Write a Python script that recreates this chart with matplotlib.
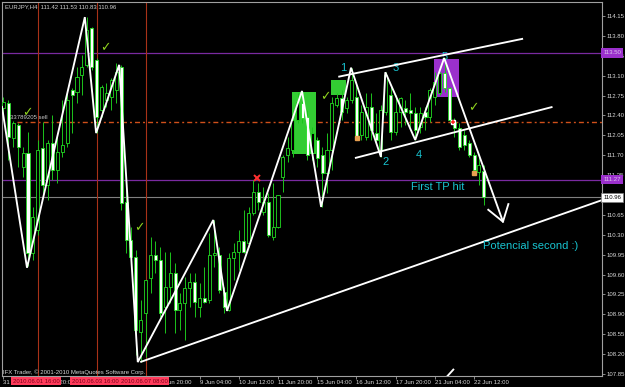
import matplotlib
matplotlib.use('Agg')
import matplotlib.pyplot as plt
import matplotlib.transforms as mtransforms
from matplotlib.patches import Rectangle

plt.rcParams['lines.scale_dashes'] = False
plt.rcParams['font.family'] = ['Liberation Sans', 'DejaVu Sans']

# ---------------- data (EURJPY H4 candles) ----------------
opens = [112.53, 112.62, 112.00, 112.23, 111.49, 111.74, 109.98, 110.38, 111.83, 111.18,
         111.92, 111.44, 111.76, 111.92, 112.85, 112.81, 113.11, 113.29, 113.94, 113.38,
         112.50, 112.67, 112.72, 112.85, 113.25, 110.88, 110.21, 109.91, 108.59, 108.92,
         109.54, 109.94, 109.86, 109.03, 109.38, 109.63, 108.98, 109.10, 109.37, 109.47,
         109.03, 109.19, 109.15, 109.94, 109.94, 109.29, 108.98, 109.89, 110.00, 110.19,
         110.16, 110.68, 111.05, 110.70, 110.88, 110.26, 110.44, 111.32, 111.70, 111.79,
         112.32, 112.62, 112.37, 111.74, 111.97, 111.70, 111.39, 111.79, 112.58, 112.71,
         112.53, 112.67, 112.72, 112.06, 112.02, 112.55, 112.09, 111.79, 112.46, 112.76,
         112.11, 112.46, 112.53, 112.50, 112.44, 112.20, 112.46, 112.37, 112.72, 112.80,
         113.15, 112.88, 112.29, 112.18, 112.06, 111.92, 111.70, 111.40, 111.42]
highs = [112.72, 112.67, 112.30, 112.27, 111.85, 112.11, 110.79, 111.97, 112.29, 111.97,
         112.41, 112.09, 112.67, 112.85, 112.88, 113.25, 113.46, 114.13, 113.96, 113.41,
         112.94, 112.97, 113.06, 113.32, 113.29, 111.14, 110.44, 110.03, 109.15, 109.50,
         110.26, 110.19, 110.09, 110.00, 110.00, 109.80, 109.28, 109.56, 109.63, 109.63,
         109.45, 109.73, 110.33, 110.56, 110.09, 109.38, 109.98, 110.16, 110.38, 110.74,
         110.79, 111.26, 111.21, 111.14, 111.04, 111.21, 111.00, 111.70, 112.02, 112.32,
         112.80, 112.83, 112.50, 112.20, 112.02, 111.85, 112.09, 112.72, 112.80, 112.85,
         112.72, 113.24, 112.97, 112.58, 112.80, 112.80, 112.44, 112.58, 113.16, 112.90,
         112.76, 112.72, 112.67, 112.80, 112.55, 112.55, 112.55, 112.88, 113.16, 113.16,
         113.41, 112.90, 112.36, 112.27, 112.14, 111.97, 111.76, 111.67, 111.53]
lows = [112.43, 111.62, 111.85, 111.49, 111.32, 109.75, 109.86, 110.30, 110.97, 110.91,
        111.26, 111.21, 111.67, 111.85, 112.09, 112.62, 112.76, 113.25, 113.20, 112.09,
        112.37, 112.55, 112.50, 112.62, 110.74, 109.98, 109.86, 108.18, 108.06, 108.15,
        109.28, 109.63, 108.85, 108.57, 109.10, 108.57, 108.63, 108.45, 109.03, 108.85,
        108.85, 109.10, 109.10, 109.73, 109.28, 108.92, 108.96, 109.50, 109.68, 109.98,
        110.09, 110.65, 110.74, 110.65, 110.26, 110.21, 110.42, 111.05, 111.58, 111.67,
        112.27, 112.27, 111.62, 111.62, 111.49, 110.79, 111.04, 111.44, 112.55, 112.32,
        112.44, 112.62, 111.97, 111.97, 111.97, 111.97, 111.92, 111.67, 112.41, 111.97,
        112.06, 112.20, 112.23, 112.20, 111.97, 112.09, 112.14, 112.29, 112.58, 112.76,
        112.81, 112.29, 112.02, 111.79, 111.79, 111.67, 111.39, 111.18, 110.83]
closes = [112.64, 112.02, 112.27, 111.85, 111.74, 109.98, 110.61, 111.79, 111.18, 111.92,
          111.44, 111.76, 111.88, 112.67, 112.76, 113.08, 113.25, 113.90, 113.25, 112.37,
          112.90, 112.80, 113.02, 113.16, 110.86, 110.21, 109.91, 108.63, 108.80, 109.50,
          109.94, 109.86, 108.92, 109.38, 109.63, 108.98, 109.10, 109.37, 109.47, 109.12,
          109.19, 109.12, 109.94, 109.98, 109.33, 109.03, 109.89, 110.00, 110.19, 110.00,
          110.68, 111.05, 110.88, 110.88, 110.30, 110.44, 111.00, 111.67, 111.83, 112.32,
          112.64, 112.36, 111.70, 112.09, 111.65, 111.39, 111.79, 112.62, 112.71, 112.46,
          112.67, 113.02, 112.02, 112.46, 112.55, 112.14, 111.97, 112.50, 113.11, 112.11,
          112.46, 112.71, 112.46, 112.44, 112.14, 112.44, 112.37, 112.85, 112.99, 113.15,
          112.88, 112.32, 112.18, 111.85, 111.88, 111.70, 111.44, 111.53, 110.96]

# time axis (bar index -> label); labels fully hidden under the date boxes are blank
tick_bars = [0, 8, 16, 24, 32, 40, 48, 56, 64, 72, 80, 88, 96]
tick_labels = ['31 May 2010', '1 Jun 20:00', '', '', '7 Jun 20:00',
               '9 Jun 04:00', '10 Jun 12:00', '11 Jun 20:00', '15 Jun 04:00', '16 Jun 12:00',
               '17 Jun 20:00', '21 Jun 04:00', '22 Jun 12:00']
price_ticks = [114.15, 113.80, 113.45, 113.10, 112.75, 112.40, 112.05, 111.70, 111.35,
               111.00, 110.65, 110.30, 109.95, 109.60, 109.25, 108.90, 108.55, 108.20, 107.85]

# vertical time lines
vline_bars = [7, 19, 29]
vline_labels = ['2010.06.01 16:00', '2010.06.03 16:00', '2010.06.07 08:00']

# horizontal levels
purple_levels = [113.50, 111.27]
bid_level = 110.96
order_level = 112.29
order_start = 2.8

# hand-drawn zigzag (bar, price)
zz_bars = [-0.3, 4.8, 16.6, 18.9, 23.6, 27.4, 42.8, 45.6, 60.9, 64.8, 70.9, 77.0, 77.9, 84.0, 89.9, 101.9]
zz_prices = [112.55, 109.72, 114.13, 112.09, 113.29, 108.06, 110.56, 108.96, 112.83, 110.79,
             113.24, 111.67, 113.16, 111.97, 113.41, 110.53]
arrow_bars = [98.9, 101.9, 103.0]
arrow_prices = [110.74, 110.53, 110.84]

# trend lines (bar0, price0, bar1, price1)
channel_upper = (68.3, 113.08, 106.0, 113.75)
channel_lower = (71.7, 111.65, 112.0, 112.55)
support_line = (27.9, 108.06, 122.1, 110.91)
bottom_stub = (90.0, 107.76, 91.9, 107.94)

# rectangles (bar0, bar1, price_low, price_high, colour)
rects = [(58.9, 63.8, 111.72, 112.81, '#33cc33'),
         (66.8, 69.9, 112.76, 113.02, '#33cc33'),
         (87.9, 93.0, 112.72, 113.39, '#9b30cc')]

# wave labels
wave_text = ['1', '2', '3', '4', '5']
wave_bars = [69.3, 77.9, 80.1, 84.8, 89.9]
wave_prices = [113.23, 111.58, 113.23, 111.70, 113.43]

check_bars = [20.7, 4.8, 27.7, 65.6, 95.8]
check_prices = [113.59, 112.45, 110.42, 112.73, 112.53]

# ---------------- figure ----------------
W, H = 625, 387
fig = plt.figure(figsize=(W / 100, H / 100), dpi=100, facecolor='black')
ax = fig.add_axes([2 / W, 11 / H, 600 / W, 374 / H])
ax.set_facecolor('black')
ax.set_xlim(-0.3, 122.1)
ax.set_ylim(107.815, 114.396)

for s in ax.spines.values():
    s.set_color('#a0a0a0')
    s.set_linewidth(0.8)

# levels
for lv in purple_levels:
    ax.axhline(lv, color='#7a2aa0', lw=0.9, zorder=1)
ax.axhline(bid_level, color='#808080', lw=0.8, zorder=1)
ax.plot([order_start, 122.1], [order_level, order_level], color='#d0501a', lw=1.0,
        dashes=(3.6, 2.2, 1.4, 2.2), zorder=1)
for vb in vline_bars:
    ax.axvline(vb, color='#a83218', lw=0.8, zorder=1)

# rectangles
for b0, b1, p0, p1, col in rects:
    ax.add_patch(Rectangle((b0, p0), b1 - b0, p1 - p0, facecolor=col, edgecolor='none', zorder=1.5))

# candles
xs = list(range(len(opens)))
wick = '#1cc41c'
ax.vlines(xs, lows, highs, color=wick, lw=0.7, zorder=3)
bottoms = [min(o, c) for o, c in zip(opens, closes)]
heights = [max(abs(c - o), 0.012) for o, c in zip(opens, closes)]
faces = ['black' if c >= o else 'white' for o, c in zip(opens, closes)]
ax.bar(xs, heights, bottom=bottoms, width=0.62, color=faces, edgecolor='#22dd22',
       linewidth=0.6, zorder=3.1)

# hand-drawn lines
lw_line = 1.35
ax.plot(zz_bars, zz_prices, color='white', lw=lw_line, zorder=4, solid_joinstyle='miter')
ax.plot(arrow_bars, arrow_prices, color='white', lw=lw_line, zorder=4)
for b0, p0, b1, p1 in [channel_upper, channel_lower, support_line, bottom_stub]:
    ax.plot([b0, b1], [p0, p1], color='white', lw=lw_line, zorder=4, solid_capstyle='butt')

# markers
ax.plot([51.7], [111.30], marker='x', color='#ff3030', ms=4.5, mew=1.4, zorder=5)
ax.plot([91.7], [112.29], marker='s', color='white', ms=3.2, zorder=5)
ax.plot([91.7], [112.29], marker='+', color='#ff2020', ms=3.5, mew=1.1, zorder=5.1)
ax.plot([72.1, 96.0], [112.00, 111.39], marker='s', ls='none', color='#e8a050', ms=2.2, zorder=5)

for b, p in zip(check_bars, check_prices):
    ax.text(b, p, '\u2713', fontsize=9, color='#8fd21e', ha='center', va='center',
            family='DejaVu Sans', fontweight='bold', zorder=6)

cyan = '#18c4d0'
for t, b, p in zip(wave_text, wave_bars, wave_prices):
    ax.text(b, p, t, fontsize=8, color=cyan, ha='center', va='center', zorder=3.5)
ax.text(88.5, 111.14, 'First TP hit', fontsize=8, color=cyan, ha='center', va='center', zorder=6)
ax.text(97.9, 110.11, 'Potencial second :)', fontsize=8, color=cyan, ha='left', va='center', zorder=6)

ax.text(1.3, 112.36, '33789205 sell', fontsize=4.3, color='#c8c8c8', ha='left', va='center', zorder=6)

# axes ticks (111.00 sits under the bid box, so its label is left empty)
ax.yaxis.tick_right()
ax.set_yticks(price_ticks)
ax.set_yticklabels(['' if abs(v - 111.00) < 1e-6 else f'{v:.2f}' for v in price_ticks],
                   fontsize=4.3, color='#d8d8d8')
ax.tick_params(axis='y', length=2, width=0.6, color='#a0a0a0', pad=1)
ax.set_xticks(tick_bars)
ax.set_xticklabels(tick_labels, fontsize=4.3, color='#d8d8d8')
for lbl in ax.get_xticklabels():
    lbl.set_ha('left')
ax.tick_params(axis='x', length=2, width=0.6, color='#a0a0a0', pad=1.2)

# highlighted price boxes
ytr = mtransforms.blended_transform_factory(ax.transAxes, ax.transData)
for lv in purple_levels:
    ax.text(1.002, lv, f'{lv:.2f}', transform=ytr, fontsize=4.3, color='#dcc4ec',
            ha='left', va='center', zorder=10, clip_on=False,
            bbox=dict(boxstyle='square,pad=0.35', facecolor='#9b30cc', edgecolor='none'))
ax.text(1.002, bid_level, f'{bid_level:.2f}', transform=ytr, fontsize=4.3, color='black',
        ha='left', va='center', zorder=10, clip_on=False,
        bbox=dict(boxstyle='square,pad=0.35', facecolor='white', edgecolor='#808080', lw=0.5))

# highlighted time boxes
xtr = mtransforms.blended_transform_factory(ax.transData, ax.transAxes)
for vb, vl in zip(vline_bars, vline_labels):
    ax.text(vb - 0.3, -0.0135, vl, transform=xtr, fontsize=4.3, color='#7a0018',
            ha='center', va='center', zorder=10, clip_on=False,
            bbox=dict(boxstyle='square,pad=0.3', facecolor='#ff3c5c', edgecolor='none'))

fig.text(5 / W, 1 - 7 / H, 'EURJPY,H4  111.42 111.53 110.83 110.96', fontsize=4.3,
         color='#d0d0d0', ha='left', va='center')
fig.text(3 / W, 1 - 372 / H, 'IFX Trader, \u00a9 2001-2010 MetaQuotes Software Corp.',
         fontsize=4.3, color='#d8d8d8', ha='left', va='center')

fig.savefig('out.png', dpi=100, facecolor='black')
